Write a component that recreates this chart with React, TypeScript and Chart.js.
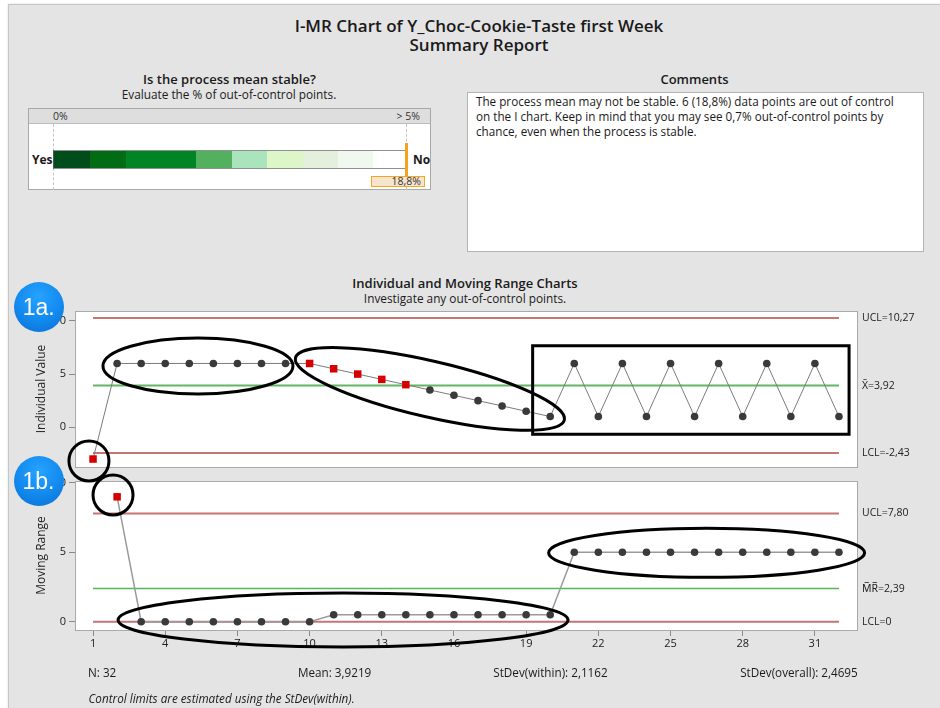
import React, { useEffect, useRef } from "react";
import { Chart, registerables } from "chart.js";

Chart.register(...registerables);

// ---------------- DATA ----------------
const OBSERVATIONS = [1, 2, 3, 4, 5, 6, 7, 8, 9, 10, 11, 12, 13, 14, 15, 16, 17, 18, 19, 20, 21, 22, 23, 24, 25, 26, 27, 28, 29, 30, 31, 32];
const I_VALUES = [-3, 6, 6, 6, 6, 6, 6, 6, 6, 6, 5.5, 5, 4.5, 4, 3.5, 3, 2.5, 2, 1.5, 1, 6, 1, 6, 1, 6, 1, 6, 1, 6, 1, 6, 1];
const MR_VALUES = [null, 9, 0, 0, 0, 0, 0, 0, 0, 0, 0.5, 0.5, 0.5, 0.5, 0.5, 0.5, 0.5, 0.5, 0.5, 0.5, 5, 5, 5, 5, 5, 5, 5, 5, 5, 5, 5, 5];
const I_FLAGGED = [1, 10, 11, 12, 13, 14];
const MR_FLAGGED = [2];

const I_UCL = 10.27;
const I_MEAN = 3.92;
const I_LCL = -2.43;
const MR_UCL = 7.8;
const MR_MEAN = 2.39;
const MR_LCL = 0;

const X_TICKS = [1, 4, 7, 10, 13, 16, 19, 22, 25, 28, 31];
const I_Y_TICKS = [0, 5, 10];
const MR_Y_TICKS = [0, 5, 10];

const OUT_OF_CONTROL_PCT = 18.8;
const PCT_THRESHOLD = 5;
const STABILITY_COLORS = ["#004c1a", "#006d14", "#008526", "#008526", "#53b05f", "#a9e4bd", "#ddf6c8", "#e4f0db", "#f1f8ef", "#ffffff"];

// hand-drawn highlight marks, in data units (centre) + pixel radii
const ANNOTATIONS = [
  { chart: "I", kind: "ellipse", x: 0.83, y: -3.18, rx: 20, ry: 20, angle: 0 },
  { chart: "I", kind: "ellipse", x: 5.36, y: 5.76, rx: 95, ry: 28, angle: 0 },
  { chart: "I", kind: "ellipse", x: 15.0, y: 3.6, rx: 138, ry: 28, angle: 13 },
  { chart: "I", kind: "rect", x0: 19.27, x1: 32.42, y0: 7.67, y1: -0.67 },
  { chart: "MR", kind: "ellipse", x: 1.83, y: 9.13, rx: 20, ry: 20, angle: 0 },
  { chart: "MR", kind: "ellipse", x: 11.39, y: 0.12, rx: 225, ry: 27, angle: 0 },
  { chart: "MR", kind: "ellipse", x: 26.5, y: 4.96, rx: 158, ry: 24.5, angle: 0 },
];

const FONT = "'Open Sans', 'Noto Sans', sans-serif";
const fmt = (v: number) => v.toFixed(2).replace(".", ",");

const boxPlugin = {
  id: "plotBox",
  beforeDraw(chart: any) {
    const { ctx, chartArea: a } = chart;
    ctx.save();
    ctx.fillStyle = "#ffffff";
    ctx.fillRect(a.left, a.top, a.right - a.left, a.bottom - a.top);
    ctx.restore();
  },
  beforeDatasetsDraw(chart: any) {
    const { ctx, chartArea: a } = chart;
    ctx.save();
    ctx.strokeStyle = "#a9a9a9";
    ctx.lineWidth = 1;
    ctx.strokeRect(Math.round(a.left) + 0.5, Math.round(a.top) + 0.5, Math.round(a.right - a.left), Math.round(a.bottom - a.top));
    ctx.restore();
  },
};

function limitDataset(v: number, color: string, width: number) {
  return {
    data: [
      { x: OBSERVATIONS[0], y: v },
      { x: OBSERVATIONS[OBSERVATIONS.length - 1], y: v },
    ],
    borderColor: color,
    borderWidth: width,
    pointRadius: 0,
    order: 2,
  };
}

function seriesDataset(values: (number | null)[], flagged: number[], lineColor: string, lineWidth: number) {
  return {
    data: OBSERVATIONS.map((o, i) => ({ x: o, y: values[i] })),
    borderColor: lineColor,
    borderWidth: lineWidth,
    pointStyle: OBSERVATIONS.map((o) => (flagged.includes(o) ? "rect" : "circle")),
    pointRadius: OBSERVATIONS.map((o) => (flagged.includes(o) ? 5.3 : 3.8)),
    pointBackgroundColor: OBSERVATIONS.map((o) => (flagged.includes(o) ? "#d60000" : "#3a3a3a")),
    pointBorderWidth: 0,
    order: 1,
  };
}

function makeOptions(cfg: any) {
  return {
    animation: false,
    responsive: false,
    devicePixelRatio: 1,
    layout: { padding: cfg.padding },
    plugins: { legend: { display: false }, tooltip: { enabled: false } },
    scales: {
      x: {
        type: "linear",
        display: cfg.showX,
        min: 0.25,
        max: 32.75,
        afterBuildTicks: (s: any) => {
          s.ticks = X_TICKS.map((v) => ({ value: v }));
        },
        afterFit: (s: any) => {
          s.height = cfg.showX ? 30 : 0;
        },
        grid: { display: true, drawOnChartArea: false, tickLength: 6, color: "#8a8a8a" },
        border: { display: false },
        ticks: { autoSkip: false, maxRotation: 0, padding: 1, color: "#222", font: { size: 11, family: FONT } },
      },
      y: {
        type: "linear",
        position: "left",
        min: cfg.min,
        max: cfg.max,
        afterBuildTicks: (s: any) => {
          s.ticks = cfg.yTicks.map((v: number) => ({ value: v }));
        },
        afterFit: (s: any) => {
          s.width = 75;
        },
        grid: { display: true, drawOnChartArea: false, tickLength: 6, color: "#8a8a8a" },
        border: { display: false },
        ticks: { autoSkip: false, padding: 3, color: "#222", font: { size: 11, family: FONT } },
        title: { display: true, text: cfg.title, padding: { top: 34, bottom: 0 }, color: "#222", font: { size: 12, family: FONT } },
      },
      y2: {
        type: "linear",
        position: "right",
        min: cfg.min,
        max: cfg.max,
        afterBuildTicks: (s: any) => {
          s.ticks = cfg.limits.map((l: any) => ({ value: l.v })).sort((a: any, b: any) => a.value - b.value);
        },
        afterFit: (s: any) => {
          s.width = 83;
        },
        grid: { display: false, drawTicks: false, tickLength: 0 },
        border: { display: false },
        ticks: {
          autoSkip: false,
          padding: 5,
          color: "#222",
          font: { size: 10.5, family: FONT },
          callback: (v: number) => {
            const l = cfg.limits.find((q: any) => Math.abs(q.v - v) < 1e-9);
            return l ? l.label : "";
          },
        },
      },
    },
  };
}

function drawAnnotations(ctx: CanvasRenderingContext2D, iChart: any, mrChart: any) {
  ctx.save();
  ctx.strokeStyle = "#000";
  ctx.lineWidth = 3;
  for (const a of ANNOTATIONS as any[]) {
    const ch = a.chart === "I" ? iChart : mrChart;
    const xs = ch.scales.x;
    const ys = ch.scales.y;
    ctx.beginPath();
    if (a.kind === "ellipse") {
      ctx.ellipse(xs.getPixelForValue(a.x), ys.getPixelForValue(a.y), a.rx, a.ry, (a.angle * Math.PI) / 180, 0, Math.PI * 2);
    } else {
      const x0 = xs.getPixelForValue(a.x0);
      const x1 = xs.getPixelForValue(a.x1);
      const y0 = ys.getPixelForValue(a.y0);
      const y1 = ys.getPixelForValue(a.y1);
      ctx.rect(x0, y0, x1 - x0, y1 - y0);
    }
    ctx.stroke();
  }
  ctx.restore();
}

function Txt(props: any) {
  const { x, y, size = 12, weight = 400, italic = false, align = "left", lh = 16, color = "#1a1a1a", children } = props;
  const style: any = {
    position: "absolute",
    top: y - lh / 2,
    lineHeight: lh + "px",
    fontSize: size,
    fontWeight: weight,
    fontStyle: italic ? "italic" : "normal",
    whiteSpace: "nowrap",
    color,
  };
  if (align === "left") style.left = x;
  else if (align === "right") style.right = 940 - x;
  else {
    style.left = x;
    style.transform = "translateX(-50%)";
  }
  return <div style={style}>{children}</div>;
}

export default function App() {
  const c1 = useRef<HTMLCanvasElement>(null);
  const c2 = useRef<HTMLCanvasElement>(null);

  useEffect(() => {
    Chart.defaults.font.family = FONT;
    const iChart = new Chart(c1.current as any, {
      type: "line",
      data: {
        datasets: [
          limitDataset(I_UCL, "#b94444", 1.5),
          limitDataset(I_MEAN, "#62b562", 2),
          limitDataset(I_LCL, "#b94444", 1.5),
          seriesDataset(I_VALUES, I_FLAGGED, "#7c7c7c", 1),
        ] as any,
      },
      options: makeOptions({
        padding: { top: 311, bottom: 241, left: 0, right: 0 },
        showX: false,
        min: -3.75,
        max: 10.94,
        yTicks: I_Y_TICKS,
        title: "Individual Value",
        limits: [
          { v: I_UCL, label: "UCL=" + fmt(I_UCL) },
          { v: I_MEAN, label: "X\u0304=" + fmt(I_MEAN) },
          { v: I_LCL, label: "LCL=" + fmt(I_LCL) },
        ],
      }) as any,
      plugins: [boxPlugin],
    });

    const mrChart = new Chart(c2.current as any, {
      type: "line",
      data: {
        datasets: [
          limitDataset(MR_UCL, "#c47474", 2),
          limitDataset(MR_MEAN, "#55b55a", 1.5),
          limitDataset(MR_LCL, "#c47474", 2),
          seriesDataset(MR_VALUES, MR_FLAGGED, "#9a9a9a", 1.5),
        ] as any,
      },
      options: makeOptions({
        padding: { top: 481, bottom: 48, left: 0, right: 0 },
        showX: true,
        min: -0.6,
        max: 10.14,
        yTicks: MR_Y_TICKS,
        title: "Moving Range",
        limits: [
          { v: MR_UCL, label: "UCL=" + fmt(MR_UCL) },
          { v: MR_MEAN, label: "M\u0305R\u0305=" + fmt(MR_MEAN) },
          { v: MR_LCL, label: "LCL=0" },
        ],
      }) as any,
      plugins: [
        boxPlugin,
        {
          id: "annotations",
          afterDraw(chart: any) {
            drawAnnotations(chart.ctx, iChart, chart);
          },
        },
      ],
    });
    mrChart.draw();
    return () => {
      iChart.destroy();
      mrChart.destroy();
    };
  }, []);

  // stability bar geometry
  const barLeft = 53.3;
  const barRight = 406;
  const barW = barRight - barLeft;
  const markerX = barLeft + (Math.min(OUT_OF_CONTROL_PCT, PCT_THRESHOLD) / PCT_THRESHOLD) * barW;
  const segEdges = [53.3, 89.3, 125, 160, 195, 231, 266, 301.7, 337.3, 371.7, 406];

  return (
    <div style={{ position: "fixed", left: 0, top: 0, width: 940, height: 708, background: "#fff", overflow: "hidden", fontFamily: FONT, color: "#1a1a1a" }}>
      <div style={{ position: "absolute", left: 8, top: 4, width: 940, height: 710, background: "#e4e4e4", borderLeft: "1px solid #c6c6c6", borderTop: "1px solid #c6c6c6", boxShadow: "0 0 2px rgba(0,0,0,0.15)" }} />

      <Txt x={479} y={26} size={17} weight={600} align="center" lh={20}>I-MR Chart of Y_Choc-Cookie-Taste first Week</Txt>
      <Txt x={479} y={45} size={17} weight={600} align="center" lh={20}>Summary Report</Txt>

      <Txt x={229.5} y={79} size={13} weight={600} align="center">Is the process mean stable?</Txt>
      <Txt x={229} y={93.5} size={11.8} align="center">Evaluate the % of out-of-control points.</Txt>

      {/* stability box */}
      <div style={{ position: "absolute", left: 27.5, top: 108, width: 403, height: 82, background: "#fff", border: "1px solid #a8a8a8", boxSizing: "border-box" }} />
      <div style={{ position: "absolute", left: 28.5, top: 109, width: 401, height: 14, background: "#dedede", borderBottom: "1px solid #bdbdbd" }} />
      <Txt x={53} y={116} size={10.5} lh={12} color="#333">0%</Txt>
      <Txt x={420} y={116} size={10.5} lh={12} color="#333" align="right">&gt; 5%</Txt>
      <div style={{ position: "absolute", left: barLeft, top: 124, height: 66, borderLeft: "1px dashed #c4c4c4" }} />
      <div style={{ position: "absolute", left: barRight, top: 124, height: 66, borderLeft: "1px dashed #c4c4c4" }} />
      <div style={{ position: "absolute", left: barLeft, top: 150, width: barW, height: 19, border: "1px solid #8f8f8f", borderLeft: "1px solid #555", boxSizing: "border-box", background: "#fff" }} />
      {STABILITY_COLORS.map((c, i) => (
        <div key={i} style={{ position: "absolute", left: segEdges[i] + 1, top: 151, width: segEdges[i + 1] - segEdges[i], height: 17, background: c }} />
      ))}
      <Txt x={32} y={160} size={12} weight={700} lh={14}>Yes</Txt>
      <Txt x={413} y={160} size={12} weight={700} lh={14}>No</Txt>
      <div style={{ position: "absolute", left: markerX - 1, top: 143, width: 2.5, height: 33, background: "#f5a21c" }} />
      <div style={{ position: "absolute", left: 370.5, top: 175.5, width: 54, height: 11.5, background: "#f6e4cc", border: "1px solid #f5a623", boxSizing: "border-box" }} />
      <Txt x={421} y={181} size={10.5} lh={12} color="#333" align="right">{String(OUT_OF_CONTROL_PCT).replace(".", ",")}%</Txt>

      {/* comments */}
      <Txt x={694.5} y={79} size={13} weight={600} align="center">Comments</Txt>
      <div style={{ position: "absolute", left: 466.5, top: 92, width: 457, height: 160, background: "#fff", border: "1px solid #b3b3b3", boxSizing: "border-box" }} />
      <Txt x={476} y={101.7} size={11.7} lh={15}>The process mean may not be stable. 6 (18,8%) data points are out of control</Txt>
      <Txt x={476} y={116.7} size={11.7} lh={15}>on the I chart. Keep in mind that you may see 0,7% out-of-control points by</Txt>
      <Txt x={476} y={131.7} size={11.7} lh={15}>chance, even when the process is stable.</Txt>

      <Txt x={465} y={282.7} size={13} weight={600} align="center">Individual and Moving Range Charts</Txt>
      <Txt x={465} y={297.7} size={11.8} align="center">Investigate any out-of-control points.</Txt>

      <canvas ref={c1} width={940} height={708} style={{ position: "absolute", left: 0, top: 0 }} />
      <canvas ref={c2} width={940} height={708} style={{ position: "absolute", left: 0, top: 0 }} />

      <Txt x={88} y={671.7} size={11.7}>N: 32</Txt>
      <Txt x={298} y={671.7} size={11.7}>Mean: 3,9219</Txt>
      <Txt x={493.3} y={671.7} size={11.7}>StDev(within): 2,1162</Txt>
      <Txt x={857.7} y={671.7} size={11.7} align="right">StDev(overall): 2,4695</Txt>
      <Txt x={88.5} y={698.3} size={11.7} italic>Control limits are estimated using the StDev(within).</Txt>

      {[{ t: "1a.", x: 38.7, y: 306.7 }, { t: "1b.", x: 38.5, y: 481 }].map((b) => (
        <div
          key={b.t}
          style={{
            position: "absolute",
            left: b.x - 25,
            top: b.y - 25,
            width: 50,
            height: 50,
            borderRadius: "50%",
            background: "radial-gradient(circle at 50% 30%, #26a3ff 0%, #1289ee 55%, #0a6ed1 100%)",
            color: "#fff",
            fontFamily: "'Liberation Sans', Arial, sans-serif",
            fontSize: 23,
            lineHeight: "50px",
            textAlign: "center",
          }}
        >
          {b.t}
        </div>
      ))}
    </div>
  );
}
